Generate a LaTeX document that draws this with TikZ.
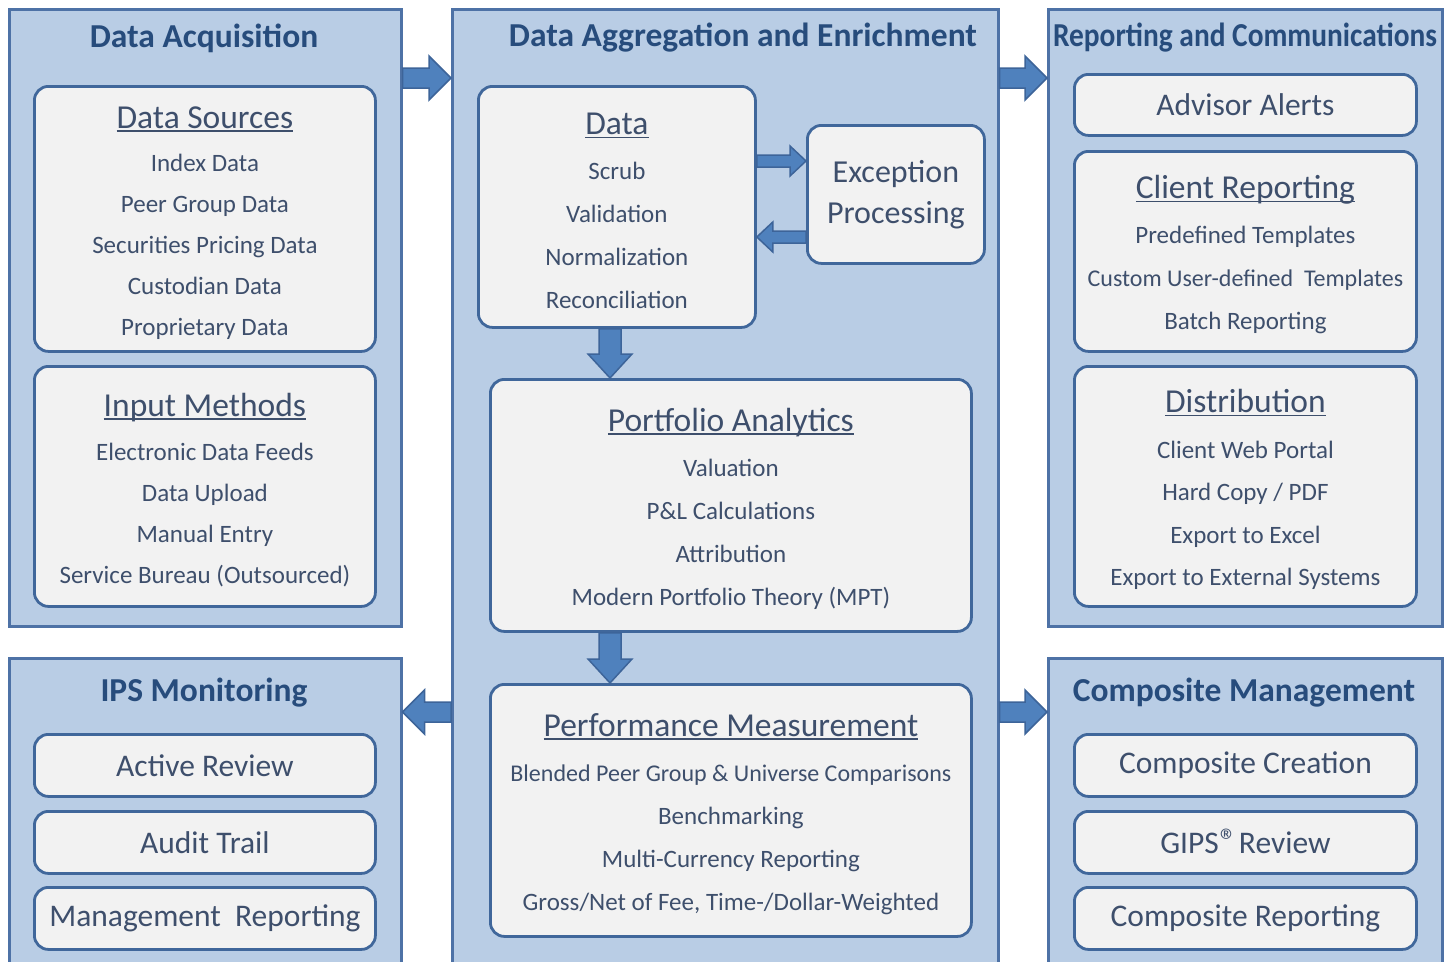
\documentclass[tikz,border=0pt]{standalone}
\usepackage{fontspec}
\setmainfont{Carlito}
\usepackage{graphicx}
\usetikzlibrary{calc}
\definecolor{panelfill}{HTML}{B9CDE5}
\definecolor{paneldraw}{HTML}{4E72A6}
\definecolor{boxfill}{HTML}{F2F2F2}
\definecolor{boxdraw}{HTML}{40679B}
\definecolor{arrfill}{HTML}{4F81BD}
\definecolor{arrdraw}{HTML}{3D6499}
\definecolor{titlec}{HTML}{274C7C}
\definecolor{textc}{HTML}{3E4F6C}
\newcommand\fsz[2]{\fontsize{#1}{#2}\selectfont}
\newcommand\hd[1]{{\fsz{33.5}{40}\vrule height 30pt depth 0pt width 0pt\setbox0\hbox{#1}\rlap{\rule[-3.5pt]{\wd0}{1.6pt}}\box0}}
\newcommand\harrow[5]{%
  \draw[barrow] let \p1=#1, \p2=#2 in
    (\x1,{\y1+#3}) -- ({\x2-(#5)},{\y1+#3}) -- ({\x2-(#5)},{\y1+#4}) -- (\x2,\y1)
    -- ({\x2-(#5)},{\y1-#4}) -- ({\x2-(#5)},{\y1-#3}) -- (\x1,{\y1-#3}) -- cycle;}
\newcommand\varrow[5]{%
  \draw[barrow] let \p1=#1, \p2=#2 in
    ({\x1-#3},\y1) -- ({\x1-#3},{\y2+#5}) -- ({\x1-#4},{\y2+#5}) -- (\x1,\y2)
    -- ({\x1+#4},{\y2+#5}) -- ({\x1+#3},{\y2+#5}) -- ({\x1+#3},\y1) -- cycle;}
\begin{document}
\begin{tikzpicture}[x=1pt,y=-1pt,
  panel/.style={draw=paneldraw, line width=2.5pt, fill=panelfill, anchor=north west, inner sep=0pt},
  ibox/.style={draw=boxdraw, line width=2.8pt, fill=boxfill, rounded corners=14pt, anchor=north west, align=center, text=textc, inner sep=0pt},
  itembox/.style={ibox, font=\fsz{25}{43}},
  single/.style={ibox, minimum width=341pt, minimum height=62pt, font=\fsz{31.5}{36}},
  ttl/.style={text=titlec, font=\fsz{33.5}{40}\bfseries, inner sep=0pt},
  barrow/.style={draw=arrdraw, fill=arrfill, line width=1.5pt, line join=miter}]
\clip (0,0) rectangle (1450,961);
\fill[white] (0,0) rectangle (1450,961);
% panels
\node[panel, minimum width=392pt, minimum height=617pt] (acq) at (8,8) {};
\node[panel, minimum width=546pt, minimum height=980pt] (agg) at (451,8) {};
\node[panel, minimum width=394pt, minimum height=617pt] (rep) at (1047,8) {};
\node[panel, minimum width=392pt, minimum height=330pt] (ips) at (8,657) {};
\node[panel, minimum width=394pt, minimum height=330pt] (comp) at (1047,657) {};
% titles
\node[ttl] (acqT) at (204,38) {Data Acquisition};
\node[ttl] (aggT) at (743,38) {Data Aggregation and Enrichment};
\node[ttl] (repT) at (1245,38) {\resizebox{384pt}{\height}{Reporting and Communications}};
\node[ttl] (ipsT) at (204,693) {IPS Monitoring};
\node[ttl] (compT) at (1244,693) {Composite Management};
% inner boxes
\node[itembox, font=\fsz{25}{41}, minimum width=341pt, minimum height=265pt] (src) at (33,85)
  {\hd{Data Sources}\\[2pt] Index Data\\ Peer Group Data\\ Securities Pricing Data\\ Custodian Data\\ Proprietary Data};
\node[itembox, font=\fsz{25}{41}, minimum width=341pt, minimum height=240pt] (inm) at (33,365)
  {\hd{Input Methods}\\[3pt] Electronic Data Feeds\\ Data Upload\\ Manual Entry\\ Service Bureau (Outsourced)};
\node[itembox, minimum width=277pt, minimum height=241pt] (data) at (477,85)
  {\hd{Data}\\[2pt] Scrub\\ Validation\\ Normalization\\ Reconciliation};
\node[ibox, font=\fsz{32}{41}, minimum width=177pt, minimum height=138pt] (exc) at (806,124)
  {Exception\\ Processing};
\node[itembox, minimum width=481pt, minimum height=252pt] (pa) at (489,378)
  {\hd{Portfolio Analytics}\\[2pt] Valuation\\ P\&L Calculations\\ Attribution\\ Modern Portfolio Theory (MPT)};
\node[itembox, minimum width=481pt, minimum height=252pt] (pm) at (489,683)
  {\hd{Performance Measurement}\\[2pt] {\fsz{24}{43}Blended Peer Group \& Universe Comparisons}\\ Benchmarking\\ Multi-Currency Reporting\\ Gross/Net of Fee, Time-/Dollar-Weighted};
\node[single, minimum width=342pt, minimum height=61pt] (adv) at (1073,73) {Advisor Alerts};
\node[itembox, minimum width=342pt, minimum height=200pt] (cr) at (1073,150)
  {\hd{Client Reporting}\\[2pt] Predefined Templates\\ {\fsz{24}{43}Custom User-defined\ \ Templates}\\ Batch Reporting};
\node[itembox, font=\fsz{25}{42.5}, minimum width=342pt, minimum height=240pt] (dist) at (1073,365)
  {\hd{Distribution}\\[3pt] Client Web Portal\\ Hard Copy / PDF\\ Export to Excel\\ Export to External Systems};
\node[single] (ar) at (33,733) {Active Review};
\node[single] (at) at (33,810) {Audit Trail};
\node[single] (mr) at (33,886) {Management\ \ Reporting};
\node[single, minimum width=342pt] (cc) at (1073,733) {Composite Creation};
\node[single, minimum width=342pt] (gips) at (1073,810) {GIPS\kern1pt\smash{\rlap{\raisebox{1pt}{\fsz{34}{34}\symbol{"00AE}}}}\kern12pt\ Review};
\node[single, minimum width=342pt] (crp) at (1073,886) {Composite Reporting};
% block arrows
\harrow{(acq.east |- 0,78)}{(agg.west |- 0,78)}{10pt}{22pt}{22pt}
\harrow{(agg.east |- 0,78)}{(rep.west |- 0,78)}{10pt}{22pt}{22pt}
\harrow{(agg.west |- 0,712)}{(ips.east |- 0,712)}{10pt}{22pt}{-22pt}
\harrow{(agg.east |- 0,712)}{(comp.west |- 0,712)}{10pt}{22pt}{22pt}
\harrow{(data.east |- 0,161)}{(exc.west |- 0,161)}{6pt}{15pt}{16pt}
\harrow{(exc.west |- 0,237)}{(data.east |- 0,237)}{6pt}{15pt}{-16pt}
\varrow{(data.south -| 610,0)}{(pa.north -| 610,0)}{11pt}{22pt}{24pt}
\varrow{(pa.south -| 610,0)}{(pm.north -| 610,0)}{11pt}{22pt}{24pt}
\end{tikzpicture}
\end{document}
